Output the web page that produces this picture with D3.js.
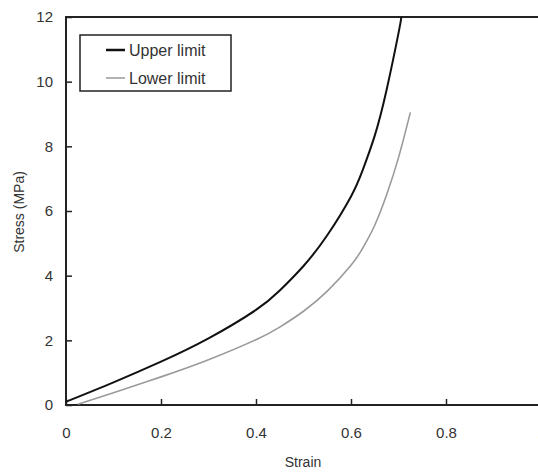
<!DOCTYPE html>
<html>
<head>
<meta charset="utf-8">
<script src="https://cdn.jsdelivr.net/npm/d3@7"></script>
<style>
  body { margin: 0; background: #fff; }
  text { font-family: "Liberation Sans", Arial, sans-serif; fill: #333; }
</style>
</head>
<body>
<svg id="chart"></svg>
<script>
// data
const upperStrain = [0, 0.1, 0.2, 0.3, 0.4, 0.45, 0.5, 0.55, 0.6, 0.625, 0.65, 0.675, 0.7, 0.706];
const upperStress = [0.1, 0.7, 1.34, 2.06, 2.94, 3.54, 4.3, 5.25, 6.45, 7.28, 8.33, 9.75, 11.5, 12];
const lowerStrain = [0.025, 0.1, 0.2, 0.3, 0.4, 0.45, 0.5, 0.55, 0.6, 0.625, 0.65, 0.675, 0.7, 0.725];
const lowerStress = [0.02, 0.38, 0.87, 1.4, 2.02, 2.41, 2.9, 3.52, 4.32, 4.86, 5.56, 6.5, 7.65, 9.05];
const xTicks = [0, 0.2, 0.4, 0.6, 0.8, 1];
const yTicks = [0, 2, 4, 6, 8, 10, 12];
const seriesNames = ['Upper limit', 'Lower limit'];

let width = 538;
let height = 473;
let margin = {left: 66, top: 17, right: -3, bottom: 68};

let svg = d3.select('#chart').attr('width', width).attr('height', height);

let xScale = d3.scaleLinear().domain([0, 1]).range([margin.left, width - margin.right]);
let yScale = d3.scaleLinear().domain([0, 12]).range([height - margin.bottom, margin.top]);

// axes with inward ticks
let xAxis = d3.axisBottom(xScale).tickValues(xTicks).tickSize(-6).tickPadding(22)
    .tickFormat(d => d === 0 || d === 1 ? d3.format('d')(d) : d3.format('.1f')(d));
let yAxis = d3.axisLeft(yScale).tickValues(yTicks).tickSize(-6).tickPadding(13);

let gx = svg.append('g')
    .attr('transform', 'translate(0,' + yScale(0) + ')')
    .call(xAxis);
let gy = svg.append('g')
    .attr('transform', 'translate(' + xScale(0) + ',0)')
    .call(yAxis);

[gx, gy].forEach(g => {
    g.select('.domain').remove();
    g.selectAll('.tick line').attr('stroke', '#222').attr('stroke-width', 1.5);
    g.selectAll('.tick text').style('font-size', '15px').attr('fill', '#333');
});

// frame
svg.append('rect')
    .attr('x', xScale(0))
    .attr('y', yScale(12))
    .attr('width', xScale(1) - xScale(0))
    .attr('height', yScale(0) - yScale(12))
    .attr('fill', 'none')
    .attr('stroke', '#222')
    .attr('stroke-width', 2);

// curves
let line = d3.line()
    .x(d => xScale(d[0]))
    .y(d => yScale(d[1]))
    .curve(d3.curveNatural);

let upper = upperStrain.map((s, i) => [s, upperStress[i]]);
let lower = lowerStrain.map((s, i) => [s, lowerStress[i]]);

svg.append('path').datum(upper)
    .attr('d', line).attr('fill', 'none')
    .attr('stroke', '#111').attr('stroke-width', 2);
svg.append('path').datum(lower)
    .attr('d', line).attr('fill', 'none')
    .attr('stroke', '#9a9a9a').attr('stroke-width', 1.6);

// legend
let legend = svg.append('g');
legend.append('rect')
    .attr('x', 80).attr('y', 35).attr('width', 151).attr('height', 56)
    .attr('fill', '#fff').attr('stroke', '#222').attr('stroke-width', 1.5);
let legendColors = ['#111', '#9a9a9a'];
let legendWidths = [2.5, 1.5];
seriesNames.forEach((name, i) => {
    let y = 50 + i * 28;
    legend.append('line')
        .attr('x1', 106).attr('x2', 125).attr('y1', y).attr('y2', y)
        .attr('stroke', legendColors[i]).attr('stroke-width', legendWidths[i]);
    legend.append('text')
        .attr('x', 129).attr('y', y + 6)
        .style('font-size', '16px').attr('fill', '#222')
        .text(name);
});

// axis titles
svg.append('text')
    .attr('x', 303).attr('y', 467)
    .attr('text-anchor', 'middle')
    .style('font-size', '14px')
    .text('Strain');

svg.append('text')
    .attr('transform', 'translate(24,212) rotate(-90)')
    .attr('text-anchor', 'middle')
    .style('font-size', '14px')
    .text('Stress (MPa)');
</script>
</body>
</html>
